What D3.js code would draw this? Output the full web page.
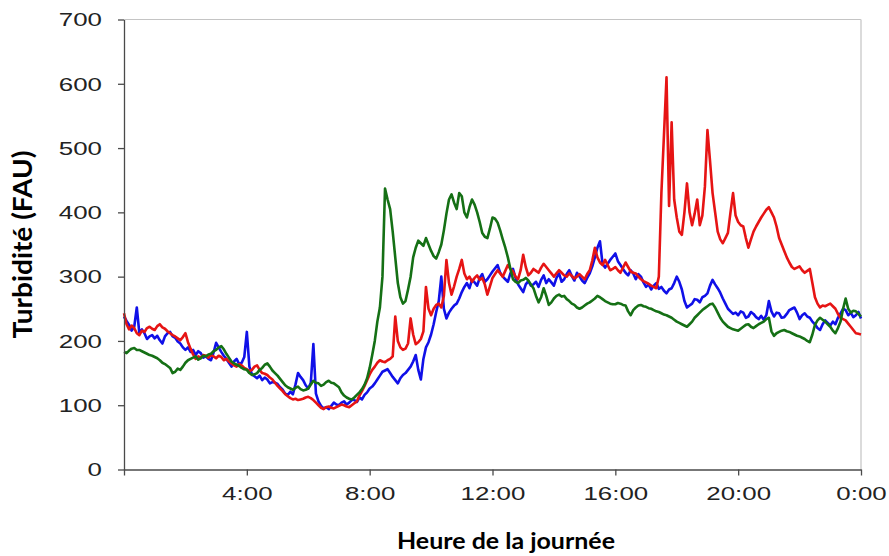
<!DOCTYPE html>
<html>
<head>
<meta charset="utf-8">
<script src="https://cdn.jsdelivr.net/npm/d3@7"></script>
<style>
  body { margin: 0; background: #fff; }
</style>
</head>
<body>
<svg id="chart" width="889" height="556"></svg>
<script>
// readings every 5 minutes, 0:00 -> 24:00 (FAU), one row per hour
const stepMinutes = 5;

const blueValues = [
  238,231,225,216,222,252,212,218,212,203,207,209,
  204,208,201,196,207,212,214,207,205,199,196,190,
  186,190,183,186,178,184,181,174,176,172,170,182,
  197,190,183,177,172,166,160,168,172,164,166,175,
  214,160,148,145,142,146,139,143,140,134,136,135,
  133,128,124,118,116,121,117,132,150,144,139,131,
  126,135,195,118,106,99,95,97,94,99,104,101,
  100,104,106,101,104,108,108,105,112,109,116,120,
  126,129,134,140,146,152,154,156,150,144,139,134,
  142,147,150,155,160,168,178,155,140,172,190,198,
  210,226,245,262,300,250,235,244,250,255,258,266,
  276,284,290,282,295,291,286,298,304,292,296,302,
  308,313,318,306,300,296,292,305,312,298,288,282,
  276,288,293,286,288,292,284,295,302,290,296,291,
  286,298,305,292,296,304,310,301,294,306,300,294,
  290,298,305,316,330,345,355,320,314,320,326,331,
  336,324,318,312,306,302,310,305,296,304,300,291,
  284,288,280,286,290,281,284,278,274,280,282,290,
  300,292,280,262,252,255,258,265,264,260,268,270,
  274,286,295,288,282,275,266,258,250,246,242,244,
  240,246,244,236,238,245,242,237,234,239,233,240,
  262,246,238,244,243,236,237,242,248,250,252,244,
  234,240,243,238,236,230,226,220,217,226,232,228,
  224,230,226,236,243,250,248,240,244,237,240,245,
  235
];

const greenValues = [
  183,181,185,188,189,186,186,184,182,180,178,177,
  175,173,170,166,164,161,158,150,152,157,155,160,
  166,170,172,174,176,171,173,177,176,179,180,184,
  186,190,192,187,180,174,168,165,163,161,158,156,
  155,150,147,148,150,155,158,163,165,160,154,150,
  146,141,136,131,128,126,124,127,129,125,123,124,
  126,132,138,135,134,130,132,136,138,135,134,131,
  128,120,115,112,110,109,112,116,120,125,132,142,
  158,178,200,230,252,300,437,420,405,370,330,290,
  268,258,262,280,300,330,345,356,352,348,360,350,
  340,332,328,338,350,372,398,420,428,415,405,430,
  425,400,392,408,420,412,400,385,368,362,360,375,
  392,390,384,372,358,345,330,312,296,292,290,294,
  295,298,294,288,282,270,260,268,282,270,256,260,
  266,270,272,269,270,265,262,258,256,252,250,252,
  255,258,260,263,266,270,268,265,262,260,258,257,
  257,259,258,256,255,246,240,248,252,255,256,254,
  253,251,250,248,246,245,243,241,240,238,236,233,
  230,228,226,224,222,226,230,236,240,244,248,251,
  254,257,258,252,244,236,230,226,222,220,218,217,
  216,219,222,225,226,222,220,223,226,228,230,234,
  236,215,208,212,214,216,217,215,214,212,210,208,
  207,205,203,200,198,210,225,232,236,233,230,226,
  222,216,212,220,230,250,266,250,244,247,246,242,
  238
];

const redValues = [
  243,226,218,224,220,212,209,216,214,220,222,219,
  217,223,226,221,219,215,212,209,207,204,201,206,
  212,198,188,179,172,176,174,178,177,174,178,176,
  173,177,175,170,172,168,165,162,160,164,162,158,
  156,153,155,160,162,155,150,149,147,143,140,135,
  130,126,122,117,114,111,109,110,108,109,110,112,
  113,111,108,104,100,96,94,97,98,96,95,97,
  99,101,100,98,97,100,103,106,115,122,130,139,
  148,155,160,166,170,168,167,170,172,176,238,200,
  190,186,188,196,235,210,195,198,203,215,284,250,
  240,250,256,258,252,270,326,290,272,285,300,312,
  326,305,296,300,292,298,302,295,298,288,272,285,
  298,304,310,305,300,309,318,312,308,300,296,310,
  334,315,302,306,312,309,306,314,320,315,310,305,
  300,305,310,306,302,300,305,301,297,300,304,300,
  296,304,310,325,345,330,322,318,326,318,310,312,
  315,310,306,314,322,315,308,306,305,300,296,293,
  291,289,286,284,282,300,430,520,610,410,540,420,
  392,370,365,400,445,400,380,398,420,380,395,440,
  528,480,430,400,370,358,352,360,368,400,430,395,
  385,380,378,360,345,358,370,378,385,392,398,404,
  408,400,392,378,360,350,340,330,322,315,312,314,
  316,310,306,309,312,290,268,258,252,255,254,256,
  258,254,250,242,236,234,232,227,222,217,212,211,
  210
];

const xTickHours = [0, 4, 8, 12, 16, 20, 24];
const xTickLabels = ["", "4:00", "8:00", "12:00", "16:00", "20:00", "0:00"];
const yTicks = [0, 100, 200, 300, 400, 500, 600, 700];

const series = [
  {name: "blue", values: blueValues, color: "#1010e8"},
  {name: "red", values: redValues, color: "#e61414"},
  {name: "green", values: greenValues, color: "#157015"}
];

const width = 889, height = 556;
const margins = {top: 19.5, bottom: 86.5, left: 124, right: 28};
const stretch = 1.44; // the labels are drawn wide in the original

const svg = d3.select("#chart");

const x_scale = d3.scaleLinear()
  .domain([0, 24])
  .range([margins.left, width - margins.right]);

const y_scale = d3.scaleLinear()
  .domain([0, 700])
  .range([height - margins.bottom, margins.top]);

// light frame on top and right
svg.append("line")
  .attr("x1", x_scale(0)).attr("x2", x_scale(24))
  .attr("y1", y_scale(700)).attr("y2", y_scale(700))
  .attr("stroke", "#c4c4c4").attr("stroke-width", 1);
svg.append("line")
  .attr("x1", x_scale(24)).attr("x2", x_scale(24))
  .attr("y1", y_scale(700)).attr("y2", y_scale(0))
  .attr("stroke", "#d2d2d2").attr("stroke-width", 1.6);

// the lines
const line = d3.line()
  .x((d, i) => x_scale(i * stepMinutes / 60))
  .y(d => y_scale(d));

svg.selectAll(".series")
  .data(series)
  .enter()
  .append("path")
  .attr("class", "series")
  .attr("d", d => line(d.values))
  .attr("fill", "none")
  .attr("stroke", d => d.color)
  .attr("stroke-width", 2.6)
  .attr("stroke-linejoin", "round");

// axes
const xAxis = d3.axisBottom(x_scale)
  .tickValues(xTickHours)
  .tickSize(6)
  .tickSizeOuter(0)
  .tickFormat((d, i) => xTickLabels[i]);

const x_axis = svg.append("g")
  .attr("transform", `translate(0, ${y_scale(0)})`)
  .call(xAxis);

x_axis.selectAll("text")
  .attr("y", 30.5)
  .attr("dy", null)
  .attr("transform", `scale(${stretch},1)`)
  .style("font-family", "'Liberation Sans', Arial, sans-serif")
  .style("font-size", "18px")
  .attr("fill", "#222");

const yAxis = d3.axisLeft(y_scale)
  .tickValues(yTicks)
  .tickSize(6)
  .tickSizeOuter(0);

const y_axis = svg.append("g")
  .attr("transform", `translate(${x_scale(0)}, 0)`)
  .call(yAxis);

y_axis.selectAll("text")
  .attr("x", 0)
  .attr("dy", "0.35em")
  .attr("transform", `translate(-22,0) scale(${stretch},1)`)
  .style("font-family", "'Liberation Sans', Arial, sans-serif")
  .style("font-size", "18px")
  .attr("fill", "#222");

svg.selectAll(".domain, .tick line")
  .attr("stroke", "#4a4a4a")
  .attr("stroke-width", 1.3);

// axis titles
svg.append("text")
  .attr("x", 506)
  .attr("y", 549)
  .attr("text-anchor", "middle")
  .attr("textLength", 218)
  .attr("lengthAdjust", "spacingAndGlyphs")
  .style("font-family", "Lato, 'Open Sans', sans-serif")
  .style("font-weight", "bold")
  .style("font-size", "22px")
  .attr("fill", "#000")
  .text("Heure de la journée");

svg.append("text")
  .attr("text-anchor", "middle")
  .attr("transform", `translate(32, ${y_scale(350)}) scale(${stretch},1) rotate(-90)`)
  .attr("textLength", 188)
  .attr("lengthAdjust", "spacingAndGlyphs")
  .style("font-family", "Lato, 'Open Sans', sans-serif")
  .style("font-weight", "bold")
  .style("font-size", "18px")
  .attr("fill", "#000")
  .text("Turbidité (FAU)");
</script>
</body>
</html>
